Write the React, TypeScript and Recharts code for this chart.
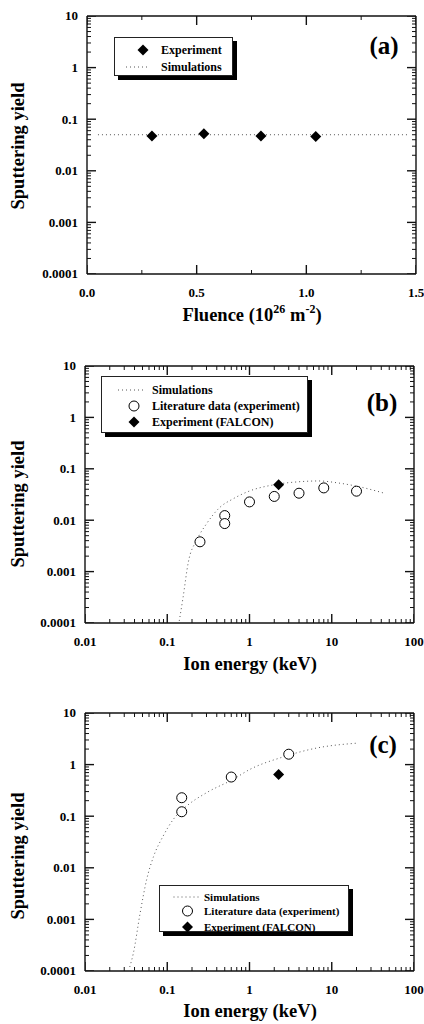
import React from 'react';
import { ComposedChart, Line, Scatter, XAxis, YAxis, Legend, ReferenceLine } from 'recharts';

// ---- panel (a): yield vs fluence
const fluenceExp = [0.296, 0.533, 0.793, 1.043];
const yieldExpA = [0.047, 0.052, 0.047, 0.046];
const fluenceSim = [0.05, 1.46];
const yieldSimA = [0.05, 0.05];

// ---- panel (b)
const energyLitB = [0.25, 0.5, 0.5, 1, 2, 4, 8, 20];
const yieldLitB = [0.0038, 0.0123, 0.0086, 0.0227, 0.029, 0.0335, 0.0425, 0.0367];
const energyFalconB = [2.26];
const yieldFalconB = [0.049];
const energySimB = [0.14, 0.155, 0.18, 0.23, 0.3, 0.44, 0.63, 1, 2, 4, 7, 12, 20, 45];
const yieldSimB = [0.00011, 0.0003, 0.0015, 0.0042, 0.0085, 0.018, 0.026, 0.037, 0.049, 0.056, 0.058, 0.053, 0.046, 0.033];

// ---- panel (c)
const energyLitC = [0.15, 0.15, 0.6, 3.0];
const yieldLitC = [0.228, 0.122, 0.574, 1.59];
const energyFalconC = [2.26];
const yieldFalconC = [0.64];
const energySimC = [0.035, 0.0387, 0.0467, 0.056, 0.068, 0.089, 0.118, 0.172, 0.3, 0.635, 1.0, 2.57, 6.6, 20];
const yieldSimC = [0.00012, 0.00022, 0.0013, 0.0058, 0.0164, 0.041, 0.086, 0.157, 0.285, 0.52, 0.8, 1.41, 2.1, 2.6];

// ---- ticks
const yMajor = [0.0001, 0.001, 0.01, 0.1, 1, 10];
const yLabels = ['0.0001', '0.001', '0.01', '0.1', '1', '10'];
const eMajor = [0.01, 0.1, 1, 10, 100];
const eLabels = ['0.01', '0.1', '1', '10', '100'];
const fluenceTicks = [0, 0.25, 0.5, 0.75, 1, 1.25, 1.5];
const fluenceMajor = [0, 0.5, 1, 1.5];
const fluenceLabels = ['0.0', '0.5', '1.0', '1.5'];
const minorMult = [2, 3, 4, 5, 6, 7, 8, 9];

const legendA = ['Experiment', 'Simulations'];
const legendBC = ['Simulations', 'Literature data (experiment)', 'Experiment (FALCON)'];

const withMinors = (majors: number[]) =>
  [...majors, ...majors.slice(0, -1).flatMap((m) => minorMult.map((k) => k * m))].sort((a, b) => a - b);
const yTicks = withMinors(yMajor);
const eTicks = withMinors(eMajor);

const zip = (xs: number[], ys: number[]) => xs.map((x, i) => ({ x, y: ys[i] }));
const isMajor = (majors: number[], v: number) => majors.some((m) => Math.abs(m - v) < 1e-12);

const font = "'Liberation Serif', 'Times New Roman', 'DejaVu Serif', serif";
const simStroke = '#555';
const ink = '#111';

// tick labels only; tick marks are drawn by the edge scatters below
function yLabel(majors: number[], labels: string[]) {
  return (props: any) => {
    const { x, y, payload } = props;
    const idx = majors.findIndex((m) => Math.abs(m - payload.value) < 1e-12);
    if (idx < 0) return <g />;
    return (
      <text x={x - 9} y={y} dy="0.34em" textAnchor="end" fontFamily={font} fontWeight={700} fontSize={13} fill="#000">
        {labels[idx]}
      </text>
    );
  };
}

function xLabel(majors: number[], labels: string[]) {
  return (props: any) => {
    const { x, y, payload } = props;
    const idx = majors.findIndex((m) => Math.abs(m - payload.value) < 1e-12);
    if (idx < 0) return <g />;
    return (
      <text x={x} y={y + 23} textAnchor="middle" fontFamily={font} fontWeight={700} fontSize={13} fill="#000">
        {labels[idx]}
      </text>
    );
  };
}

// inward tick marks, one scatter per frame side
type Dir = 'right' | 'left' | 'up' | 'down';
const tickMark = (dir: Dir, majors: number[], key: 'x' | 'y') => (p: any) => {
  const major = isMajor(majors, p.payload[key]);
  const len = major ? 9 : 4;
  const d =
    dir === 'right' ? `M${p.cx},${p.cy}h${len}` :
    dir === 'left' ? `M${p.cx},${p.cy}h${-len}` :
    dir === 'up' ? `M${p.cx},${p.cy}v${-len}` :
    `M${p.cx},${p.cy}v${len}`;
  return <path d={d} stroke={ink} strokeWidth={major ? 1.4 : 1} fill="none" />;
};

const diamond = (p: any) => (
  <polygon
    points={`${p.cx},${p.cy - 5.5} ${p.cx + 5.5},${p.cy} ${p.cx},${p.cy + 5.5} ${p.cx - 5.5},${p.cy}`}
    fill="#000"
  />
);
const ring = (p: any) => <circle cx={p.cx} cy={p.cy} r={5} fill="#fff" stroke="#000" strokeWidth={1} />;

type LegendCfg = {
  kinds: ('sim' | 'lit' | 'exp')[];
  texts: string[];
  width: number;
  height: number;
  rowY: number[];
  symX: number;
  textX: number;
  lineX: [number, number];
  fontSize: number;
};

function LegendBox({ cfg }: { cfg: LegendCfg }) {
  return (
    <div
      style={{
        position: 'relative',
        width: cfg.width,
        height: cfg.height,
        border: '1px solid #222',
        background: '#fff',
        boxShadow: '4px 4px 0 #000',
        boxSizing: 'border-box',
        fontFamily: font,
        fontWeight: 700,
        fontSize: cfg.fontSize,
        color: '#000',
      }}
    >
      {cfg.texts.map((t, i) => {
        const k = cfg.kinds[i];
        return (
          <div key={t} style={{ position: 'absolute', left: 0, top: cfg.rowY[i] - 8, height: 16, width: '100%' }}>
            <svg width={cfg.textX} height={16} style={{ position: 'absolute', left: 0, top: 0 }}>
              {k === 'sim' && (
                <line x1={cfg.lineX[0]} y1={8} x2={cfg.lineX[1]} y2={8} stroke={simStroke} strokeDasharray="1 3" />
              )}
              {k === 'lit' && <circle cx={cfg.symX} cy={8} r={5} fill="#fff" stroke="#000" />}
              {k === 'exp' && (
                <polygon
                  points={`${cfg.symX},2.5 ${cfg.symX + 5.5},8 ${cfg.symX},13.5 ${cfg.symX - 5.5},8`}
                  fill="#000"
                />
              )}
            </svg>
            <span style={{ position: 'absolute', left: cfg.textX, top: 0, lineHeight: '16px', whiteSpace: 'nowrap' }}>
              {t}
            </span>
          </div>
        );
      })}
    </div>
  );
}

const common = {
  tickSize: 0,
  tickMargin: 0,
  tickLine: false,
  axisLine: false,
  interval: 0 as const,
  allowDataOverflow: true,
};

const legendWrap = (left: number, top: number) => ({ left, top, width: 'auto', height: 'auto' });
const frame = { stroke: ink, strokeWidth: 1.4 };

const textBase = { position: 'absolute' as const, fontFamily: font, fontWeight: 700, whiteSpace: 'nowrap' as const, lineHeight: 1, color: '#000' };

function PanelLetter({ x, y, text }: { x: number; y: number; text: string }) {
  return <div style={{ ...textBase, left: x, top: y, transform: 'translate(-50%, -50%)', fontSize: 25 }}>{text}</div>;
}

function YTitle({ cy }: { cy: number }) {
  return (
    <div style={{ ...textBase, left: 18, top: cy, transform: 'translate(-50%, -50%) rotate(-90deg)', fontSize: 18.5 }}>
      Sputtering yield
    </div>
  );
}

function XTitle({ cx, baseline, children }: { cx: number; baseline: number; children: React.ReactNode }) {
  return (
    <div style={{ ...textBase, left: cx, top: baseline - 15.5, transform: 'translateX(-50%)', fontSize: 18.5 }}>
      {children}
    </div>
  );
}

const sup = { fontSize: 12, verticalAlign: 'top', position: 'relative' as const, top: -3 };

// frame lines and tick marks (placed through the axis scales)
function frameAndTicks(xTicks: number[], xMajors: number[], xMin: number, xMax: number) {
  const left = yTicks.map((v) => ({ x: xMin, y: v }));
  const right = yTicks.map((v) => ({ x: xMax, y: v }));
  const bottom = xTicks.map((v) => ({ x: v, y: 0.0001 }));
  const top = xTicks.map((v) => ({ x: v, y: 10 }));
  return [
    <ReferenceLine key="ft" y={10} {...frame} />,
    <ReferenceLine key="fb" y={0.0001} {...frame} />,
    <ReferenceLine key="fl" x={xMin} {...frame} />,
    <ReferenceLine key="fr" x={xMax} {...frame} />,
    <Scatter key="tl" data={left} dataKey="y" shape={tickMark('right', yMajor, 'y')} legendType="none" isAnimationActive={false} />,
    <Scatter key="tr" data={right} dataKey="y" shape={tickMark('left', yMajor, 'y')} legendType="none" isAnimationActive={false} />,
    <Scatter key="tb" data={bottom} dataKey="y" shape={tickMark('up', xMajors, 'x')} legendType="none" isAnimationActive={false} />,
    <Scatter key="tt" data={top} dataKey="y" shape={tickMark('down', xMajors, 'x')} legendType="none" isAnimationActive={false} />,
  ];
}

export default function App() {
  const expA = zip(fluenceExp, yieldExpA);
  const simA = zip(fluenceSim, yieldSimA);
  const litB = zip(energyLitB, yieldLitB);
  const falB = zip(energyFalconB, yieldFalconB);
  const simB = zip(energySimB, yieldSimB);
  const litC = zip(energyLitC, yieldLitC);
  const falC = zip(energyFalconC, yieldFalconC);
  const simC = zip(energySimC, yieldSimC);

  const cfgA: LegendCfg = {
    kinds: ['exp', 'sim'],
    texts: legendA,
    width: 119,
    height: 39,
    rowY: [12, 29],
    symX: 28,
    textX: 46,
    lineX: [11, 34],
    fontSize: 12,
  };
  const cfgB: LegendCfg = {
    kinds: ['sim', 'lit', 'exp'],
    texts: legendBC,
    width: 207,
    height: 57,
    rowY: [13, 29, 44.5],
    symX: 32,
    textX: 50,
    lineX: [16, 44],
    fontSize: 12,
  };
  const cfgC: LegendCfg = {
    kinds: ['sim', 'lit', 'exp'],
    texts: legendBC,
    width: 190,
    height: 47,
    rowY: [10.5, 25, 40.5],
    symX: 27.5,
    textX: 44,
    lineX: [13.5, 40],
    fontSize: 11,
  };

  return (
    <div style={{ position: 'absolute', left: 0, top: 0, width: 424, height: 1024, background: '#fff' }}>
      {/* (a) */}
      <div style={{ position: 'absolute', left: 0, top: 0 }}>
        <ComposedChart width={424} height={330} margin={{ top: 16, right: 8, bottom: 26, left: 27 }}>
          <XAxis {...common} dataKey="x" type="number" domain={[0, 1.5]} ticks={fluenceTicks} height={30} tick={xLabel(fluenceMajor, fluenceLabels)} />
          <YAxis {...common} dataKey="y" type="number" scale="log" domain={[0.0001, 10]} ticks={yTicks} width={60} tick={yLabel(yMajor, yLabels)} />
          {frameAndTicks(fluenceTicks, fluenceMajor, 0, 1.5)}
          <Line data={simA} dataKey="y" type="linear" stroke={simStroke} strokeWidth={1} strokeDasharray="1 3" dot={false} activeDot={false} isAnimationActive={false} />
          <Scatter data={expA} dataKey="y" shape={diamond} isAnimationActive={false} />
          <Legend layout="horizontal" verticalAlign="middle" align="center" wrapperStyle={legendWrap(114, 37)} content={() => <LegendBox cfg={cfgA} />} />
        </ComposedChart>
      </div>

      {/* (b) */}
      <div style={{ position: 'absolute', left: 0, top: 330 }}>
        <ComposedChart width={424} height={345} margin={{ top: 36, right: 10, bottom: 22, left: 25 }}>
          <XAxis {...common} dataKey="x" type="number" scale="log" domain={[0.01, 100]} ticks={eTicks} height={30} tick={xLabel(eMajor, eLabels)} />
          <YAxis {...common} dataKey="y" type="number" scale="log" domain={[0.0001, 10]} ticks={yTicks} width={60} tick={yLabel(yMajor, yLabels)} />
          {frameAndTicks(eTicks, eMajor, 0.01, 100)}
          <Line data={simB} dataKey="y" type="monotone" stroke={simStroke} strokeWidth={1} strokeDasharray="1 3" dot={false} activeDot={false} isAnimationActive={false} />
          <Scatter data={litB} dataKey="y" shape={ring} isAnimationActive={false} />
          <Scatter data={falB} dataKey="y" shape={diamond} isAnimationActive={false} />
          <Legend layout="horizontal" verticalAlign="middle" align="center" wrapperStyle={legendWrap(101, 46)} content={() => <LegendBox cfg={cfgB} />} />
        </ComposedChart>
      </div>

      {/* (c) */}
      <div style={{ position: 'absolute', left: 0, top: 680 }}>
        <ComposedChart width={424} height={344} margin={{ top: 33, right: 10, bottom: 23, left: 25 }}>
          <XAxis {...common} dataKey="x" type="number" scale="log" domain={[0.01, 100]} ticks={eTicks} height={30} tick={xLabel(eMajor, eLabels)} />
          <YAxis {...common} dataKey="y" type="number" scale="log" domain={[0.0001, 10]} ticks={yTicks} width={60} tick={yLabel(yMajor, yLabels)} />
          {frameAndTicks(eTicks, eMajor, 0.01, 100)}
          <Line data={simC} dataKey="y" type="monotone" stroke={simStroke} strokeWidth={1} strokeDasharray="1 3" dot={false} activeDot={false} isAnimationActive={false} />
          <Scatter data={litC} dataKey="y" shape={ring} isAnimationActive={false} />
          <Scatter data={falC} dataKey="y" shape={diamond} isAnimationActive={false} />
          <Legend layout="horizontal" verticalAlign="middle" align="center" wrapperStyle={legendWrap(159, 205)} content={() => <LegendBox cfg={cfgC} />} />
        </ComposedChart>
      </div>

      <YTitle cy={146} />
      <YTitle cy={504} />
      <YTitle cy={856} />
      <XTitle cx={252} baseline={321.5}>
        Fluence (10<span style={sup}>26</span> m<span style={sup}>-2</span>)
      </XTitle>
      <XTitle cx={250} baseline={670.5}>Ion energy (keV)</XTitle>
      <XTitle cx={250} baseline={1017}>Ion energy (keV)</XTitle>

      <PanelLetter x={384} y={45} text="(a)" />
      <PanelLetter x={382} y={402} text="(b)" />
      <PanelLetter x={383} y={744} text="(c)" />
    </div>
  );
}
